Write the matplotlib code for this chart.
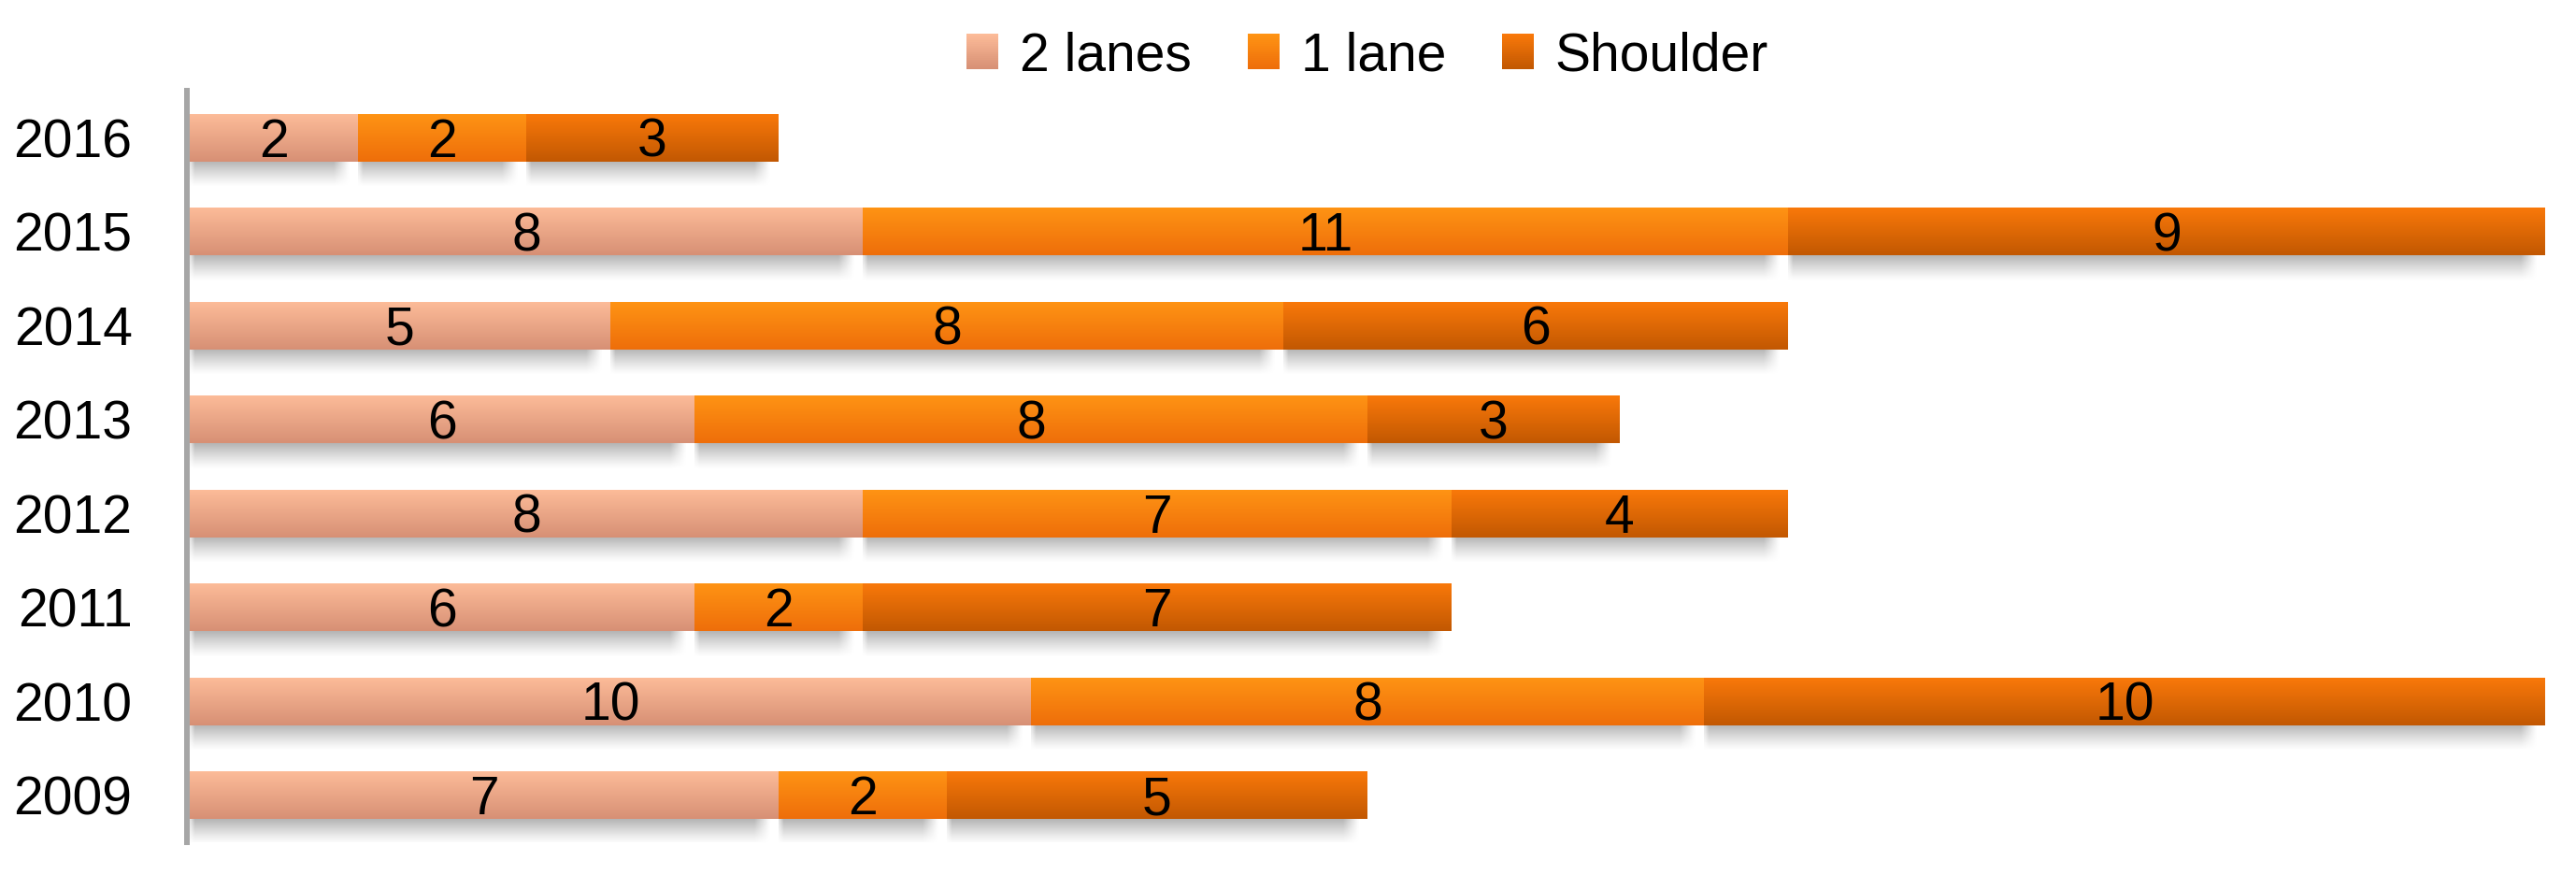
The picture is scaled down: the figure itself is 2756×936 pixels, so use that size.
import numpy as np
import matplotlib
matplotlib.use('Agg')
import matplotlib.pyplot as plt
from matplotlib.patches import Patch, Rectangle
from matplotlib.legend_handler import HandlerBase

plt.rcParams['font.family'] = ['Liberation Sans', 'DejaVu Sans']

# data (bottom to top)
years = ['2009', '2010', '2011', '2012', '2013', '2014', '2015', '2016']
two_lanes = [7, 10, 6, 8, 6, 5, 8, 2]
one_lane = [2, 8, 2, 7, 8, 8, 11, 2]
shoulder = [5, 10, 7, 4, 3, 6, 9, 3]
series_names = ['2 lanes', '1 lane', 'Shoulder']

# top / bottom gradient colours per series
grad_colors = [
    ((253, 188, 153), (215, 144, 117)),
    ((255, 148, 20), (238, 110, 10)),
    ((250, 121, 10), (194, 88, 2)),
]
mid_colors = ['#EDA686', '#F7820F', '#DE6A06']

FS = 41
BAR_H = 0.51
W, H = 2756, 936
fig = plt.figure(figsize=(W / 100, H / 100), dpi=100)
ax = fig.add_axes([203 / W, 35 / H, (2723 - 203) / W, (901 - 97) / H])

y = np.arange(len(years))
left = np.zeros(len(years))
containers = []
for k, vals in enumerate([two_lanes, one_lane, shoulder]):
    c = ax.barh(y, vals, left=left, height=BAR_H, color=mid_colors[k],
                label=series_names[k], zorder=3)
    containers.append(c)
    left = left + np.array(vals)


def gradient(top, bot, n=64):
    t = np.linspace(0, 1, n)[:, None]
    arr = (np.array(top)[None, :] * (1 - t) + np.array(bot)[None, :] * t) / 255.0
    return arr[:, None, :]


def shadow_img(width):
    # grey shadow fading downward, soft right end
    nv = 40
    nh = max(int(width * 40), 8)
    fade_v = np.linspace(0.7, 0.0, nv) ** 1.2
    fade_h = np.ones(nh)
    fade_h[:3] = np.linspace(0.4, 1, 3)
    fade_h[-8:] = np.linspace(1, 0.05, 8)
    img = np.zeros((nv, nh, 4))
    img[..., :3] = 0.55
    img[..., 3] = fade_v[:, None] * fade_h[None, :]
    return img


for k, c in enumerate(containers):
    img = gradient(*grad_colors[k])
    for p in c.patches:
        x0, y0 = p.get_x(), p.get_y()
        w, h = p.get_width(), p.get_height()
        im = ax.imshow(img, extent=[x0, x0 + w, y0, y0 + h], origin='upper',
                       aspect='auto', zorder=3.5, interpolation='bilinear')
        im.set_clip_path(p)
        sw = w - 0.1
        ax.imshow(shadow_img(sw), extent=[x0, x0 + sw, y0 - 0.27, y0],
                  origin='upper', aspect='auto', zorder=2,
                  interpolation='bilinear')

for c in containers:
    texts = ax.bar_label(c, label_type='center', fontsize=FS, color='black')
    for t in texts:
        t.set_zorder(5)
        t.set_y(-4)

ax.set_xlim(0, 28)
ax.set_ylim(-0.5, 7.5)
ax.set_yticks(y)
ax.set_yticklabels(years)
ax.set_xticks([])
ax.tick_params(axis='y', length=0, pad=42, labelsize=FS)
for s in ['top', 'right', 'bottom']:
    ax.spines[s].set_visible(False)
ax.spines['left'].set_color('#A6A6A6')
ax.spines['left'].set_linewidth(4.3)
ax.spines['left'].set_position(('outward', 2.2))


class GradientHandler(HandlerBase):
    def __init__(self, top, bot):
        super().__init__()
        self.top = np.array(top) / 255.0
        self.bot = np.array(bot) / 255.0

    def create_artists(self, legend, orig_handle, xdescent, ydescent,
                       width, height, fontsize, trans):
        n = 20
        arts = []
        for i in range(n):
            t = i / (n - 1)
            col = self.top * (1 - t) + self.bot * t
            r = Rectangle((-xdescent, -ydescent + height * (1 - (i + 1) / n)),
                          width, height / n + 0.3, facecolor=col,
                          edgecolor='none', transform=trans)
            arts.append(r)
        return arts


handles = [Patch(facecolor=mid_colors[k], label=series_names[k]) for k in range(3)]
handler_map = {handles[k]: GradientHandler(*grad_colors[k]) for k in range(3)}
fig.legend(handles=handles, loc='center', ncol=3, handler_map=handler_map,
           bbox_to_anchor=(((203 + 2723) / 2) / W, 1 - 60 / H),
           frameon=False, fontsize=FS, handlelength=0.6, handleheight=0.65,
           handletextpad=0.4, columnspacing=1.05)

fig.savefig('out.png', dpi=100)
